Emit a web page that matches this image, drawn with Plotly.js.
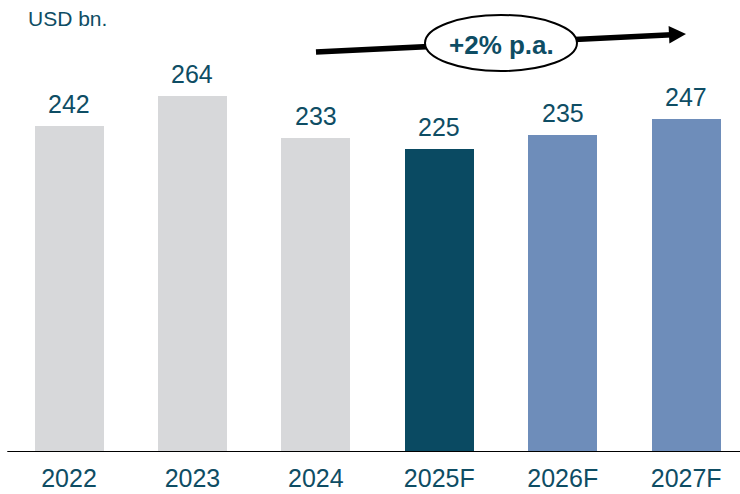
<!DOCTYPE html>
<html><head><meta charset="utf-8">
<script src="https://cdn.plot.ly/plotly-3.0.1.min.js"></script>
<style>html,body{margin:0;padding:0;background:#fff}</style>
</head><body>
<div id="chart" style="width:740px;height:494px"></div>
<script>
const categories = ["2022", "2023", "2024", "2025F", "2026F", "2027F"];
const values = [242, 264, 233, 225, 235, 247];
const barColors = ["#D7D8DA", "#D7D8DA", "#D7D8DA", "#0A4A62", "#6E8DBA", "#6E8DBA"];
const unitLabel = "USD bn.";
const growthLabel = "+2% p.a.";

const W = 740, H = 494, PT = 20, PB = 42;
const plotH = H - PT - PB;
const px = x => x / W;
const py = y => (H - PB - y) / plotH;
const teal = "#0E4D64";
const FONT = "Liberation Sans, Arial, sans-serif";

const trace = {
  type: "bar", x: categories, y: values,
  marker: {color: barColors},
  width: 0.559,
  hoverinfo: "none"
};

const shapes = [
  {type: "line", xref: "x", yref: "y", x0: -0.5, x1: 5.6, y0: 0, y1: 0, line: {color: "#000", width: 2}},
  {type: "line", xref: "paper", yref: "paper", x0: px(316), y0: py(52), x1: px(672), y1: py(34.8), line: {color: "#000", width: 5.5}},
  {type: "path", xref: "paper", yref: "paper",
   path: `M ${px(686)} ${py(34)} L ${px(668.6)} ${py(26)} L ${px(669.4)} ${py(43.5)} Z`,
   fillcolor: "#000", line: {color: "#000", width: 0}},
  {type: "circle", xref: "paper", yref: "paper", x0: px(425), x1: px(577), y0: py(71), y1: py(15),
   fillcolor: "#fff", line: {color: "#000", width: 2}}
];

const annotations = [
  {xref: "paper", yref: "paper", x: px(26), y: py(18.5), xanchor: "left", yanchor: "middle",
   text: unitLabel, showarrow: false, font: {family: FONT, size: 21, color: teal}},
  {xref: "paper", yref: "paper", x: px(501), y: py(45), xanchor: "center", yanchor: "middle",
   text: "<b>" + growthLabel + "</b>", showarrow: false, font: {family: FONT, size: 26, color: teal}}
].concat(categories.map((c, i) => ({
  xref: "x", yref: "y", x: i, y: values[i], xanchor: "center", yanchor: "bottom", yshift: 6,
  text: String(values[i]), showarrow: false, font: {family: FONT, size: 25, color: teal}
})));

const layout = {
  width: W, height: H,
  margin: {l: 0, r: 0, t: PT, b: PB, pad: 0},
  paper_bgcolor: "#fff", plot_bgcolor: "#fff",
  showlegend: false,
  xaxis: {type: "category", range: [-0.559, 5.436], showgrid: false, zeroline: false, showline: false, ticks: "",
          ticklabelstandoff: 9,
          tickfont: {family: FONT, size: 25, color: teal}, fixedrange: true},
  yaxis: {range: [0, 320.7], visible: false, showgrid: false, zeroline: false, fixedrange: true},
  shapes: shapes, annotations: annotations, bargap: 0
};

Plotly.newPlot("chart", [trace], layout, {displayModeBar: false, staticPlot: true});
</script>
</body></html>
